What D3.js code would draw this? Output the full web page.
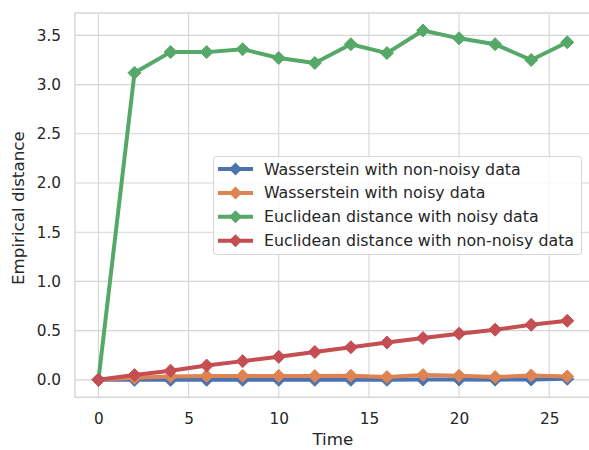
<!DOCTYPE html>
<html><head><meta charset="utf-8">
<script src="https://cdn.jsdelivr.net/npm/d3@7"></script>
<style>
body{margin:0;background:#fff;}
svg{display:block;font-family:"DejaVu Sans",sans-serif;}
</style></head>
<body>
<svg id="chart" width="589" height="450"></svg>
<script>
const times = [0,2,4,6,8,10,12,14,16,18,20,22,24,26];
const seriesNames = ["Wasserstein with non-noisy data","Wasserstein with noisy data","Euclidean distance with noisy data","Euclidean distance with non-noisy data"];
const wassNonNoisy = [0,0,0,0,0,0,0,0,0,0.003,0.003,0.002,0.003,0.01];
const wassNoisy = [0,0.02,0.035,0.04,0.04,0.04,0.038,0.042,0.028,0.048,0.042,0.028,0.045,0.035];
const euclNoisy = [0,3.12,3.33,3.33,3.36,3.27,3.22,3.41,3.32,3.55,3.47,3.41,3.25,3.43];
const euclNonNoisy = [0,0.048,0.093,0.145,0.19,0.234,0.283,0.331,0.379,0.424,0.469,0.51,0.559,0.6];
const colors = ["#4C72B0","#DD8452","#55A868","#C44E52"];
const xTicks = [0,5,10,15,20,25];
const yTicks = [0,0.5,1.0,1.5,2.0,2.5,3.0,3.5];

const allSeries = [wassNonNoisy, wassNoisy, euclNoisy, euclNonNoisy];
const svg = d3.select("#chart");
const L=75, R=590.7, T=13, B=397.3;
const x = d3.scaleLinear().domain([-1.3,27.3]).range([L,R]);
const y = d3.scaleLinear().domain([-0.1775,3.7275]).range([B,T]);
const grid = "#d5d5d5", textCol = "#262626";

// grid
svg.append("g").selectAll("line").data(xTicks).join("line")
  .attr("x1",d=>x(d)).attr("x2",d=>x(d)).attr("y1",T).attr("y2",B)
  .attr("stroke",grid).attr("stroke-width",1.1);
svg.append("g").selectAll("line").data(yTicks).join("line")
  .attr("x1",L).attr("x2",R).attr("y1",d=>y(d)).attr("y2",d=>y(d))
  .attr("stroke",grid).attr("stroke-width",1.1);
// frame
svg.append("rect").attr("x",L).attr("y",T).attr("width",R-L).attr("height",B-T)
  .attr("fill","none").attr("stroke",grid).attr("stroke-width",1.4);

// axes (labels only)
const xAxis = d3.axisBottom(x).tickValues(xTicks).tickSize(0).tickPadding(15.5).tickFormat(d3.format("d"));
const gx = svg.append("g").attr("transform",`translate(0,${B})`).call(xAxis);
const yAxis = d3.axisLeft(y).tickValues(yTicks).tickSize(0).tickPadding(14).tickFormat(d3.format(".1f"));
const gy = svg.append("g").attr("transform",`translate(${L},0)`).call(yAxis);
[gx,gy].forEach(g=>{
  g.select(".domain").remove();
  g.selectAll("text").attr("fill",textCol).style("font-size","15.3px").style("font-family","DejaVu Sans");
});

svg.append("text").attr("x",(L+R)/2).attr("y",445).attr("text-anchor","middle")
  .attr("fill",textCol).style("font-size","16.7px").text("Time");
svg.append("text").attr("transform",`translate(24,${(T+B)/2+3}) rotate(-90)`).attr("text-anchor","middle")
  .attr("fill",textCol).style("font-size","16.7px").text("Empirical distance");

// series
const line = d3.line().x((d,i)=>x(times[i])).y(d=>y(d));
const diamond = s => `M0,${-s}L${s},0L0,${s}L${-s},0Z`;
allSeries.forEach((vals,k)=>{
  const g = svg.append("g");
  g.append("path").attr("d",line(vals)).attr("fill","none").attr("stroke",colors[k])
    .attr("stroke-width",4).attr("stroke-linejoin","round");
  g.selectAll("path.m").data(vals).join("path").attr("class","m")
    .attr("transform",(d,i)=>`translate(${x(times[i])},${y(d)})`)
    .attr("d",diamond(6.5)).attr("fill",colors[k]).attr("stroke",colors[k]).attr("stroke-width",1);
});

// legend
const lg = svg.append("g");
lg.append("rect").attr("x",213.5).attr("y",156.5).attr("width",368).attr("height",98).attr("rx",3)
  .attr("fill","#fff").attr("fill-opacity",0.8).attr("stroke","#d5d5d5").attr("stroke-width",1);
seriesNames.forEach((name,k)=>{
  const yy = 169 + k*23.9;
  lg.append("line").attr("x1",218).attr("x2",253).attr("y1",yy).attr("y2",yy)
    .attr("stroke",colors[k]).attr("stroke-width",4);
  lg.append("path").attr("transform",`translate(235.5,${yy})`).attr("d",diamond(6.5)).attr("fill",colors[k]);
  lg.append("text").attr("x",264).attr("y",yy).attr("dy","0.35em").attr("fill",textCol)
    .style("font-size","15.8px").text(name);
});
</script>
</body></html>
